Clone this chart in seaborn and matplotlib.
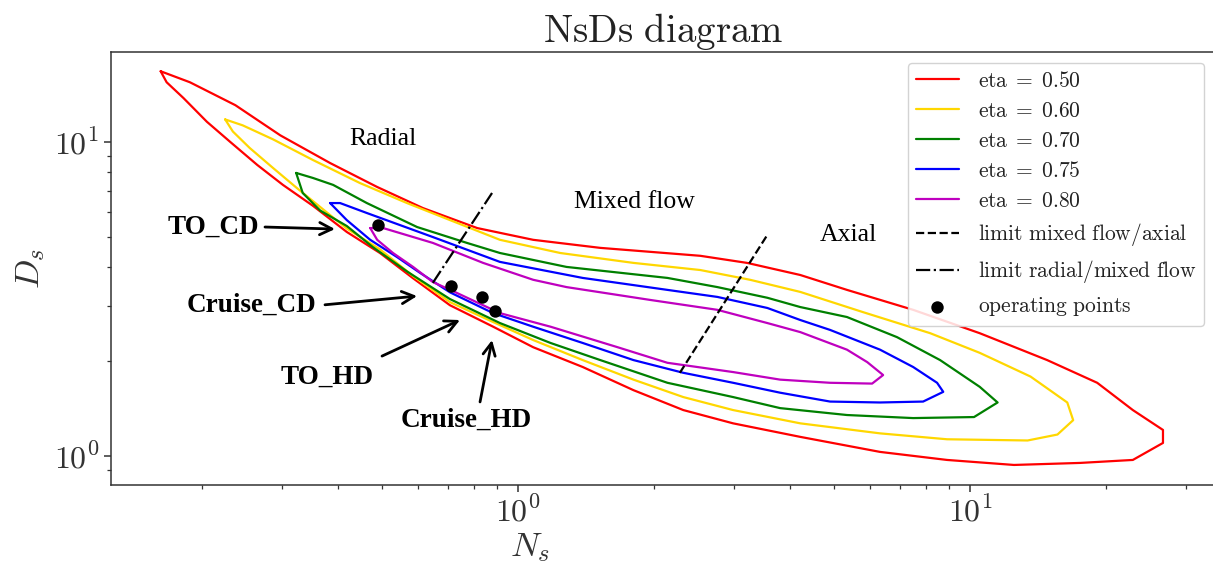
import matplotlib
matplotlib.use("Agg")
import matplotlib.pyplot as plt
import seaborn as sns
import numpy as np
import pandas as pd
from matplotlib.ticker import NullFormatter, FuncFormatter

# ---------------- data (Ns, Ds) ----------------
ns_050 = [0.162, 0.188, 0.237, 0.298, 0.384, 0.488, 0.616, 0.812, 1.08, 1.52, 2.53, 3.21, 4.21, 5.34,
          7.48, 10.5, 14.8, 19.1, 22.9, 26.7, 26.7, 22.9, 17.5, 12.5, 8.89, 6.32, 4.21, 2.99, 2.32,
          1.80, 1.39, 1.08, 0.881, 0.707, 0.586, 0.495, 0.418, 0.352, 0.302, 0.265, 0.231, 0.205,
          0.182, 0.167]
ds_050 = [16.8, 15.5, 13.1, 10.5, 8.57, 7.19, 6.16, 5.32, 4.88, 4.60, 4.34, 4.12, 3.77, 3.38,
          2.92, 2.46, 2.02, 1.71, 1.40, 1.21, 1.10, 0.971, 0.950, 0.936, 0.971, 1.03, 1.15, 1.27, 1.40,
          1.62, 1.92, 2.22, 2.58, 3.02, 3.68, 4.43, 5.17, 6.26, 7.30, 8.45, 10.0, 11.6,
          13.8, 15.5]

ns_060 = [0.225, 0.246, 0.287, 0.352, 0.447, 0.568, 0.707, 0.912, 1.24, 1.80, 2.53, 3.26, 4.21, 5.80,
          8.16, 10.5, 13.6, 16.4, 16.9, 15.6, 13.4, 8.89, 6.32, 4.21, 2.99, 2.32, 1.80, 1.39, 1.08,
          0.881, 0.707, 0.586, 0.495, 0.418, 0.365, 0.324, 0.287, 0.255, 0.234]
ds_060 = [11.8, 11.3, 10.2, 8.76, 7.40, 6.39, 5.64, 4.88, 4.43, 4.12, 3.91, 3.64, 3.33, 2.87,
          2.46, 2.13, 1.79, 1.48, 1.30, 1.17, 1.12, 1.13, 1.18, 1.27, 1.40, 1.54, 1.75, 2.02, 2.34,
          2.67, 3.09, 3.74, 4.55, 5.30, 6.21, 7.14, 8.27, 9.57, 10.8]

ns_070 = [0.323, 0.352, 0.390, 0.463, 0.598, 0.771, 0.912, 1.28, 2.14, 2.76, 3.56, 4.21, 5.34, 6.89,
          8.58, 10.5, 11.5, 10.2, 7.48, 5.34, 3.80, 2.99, 2.14, 1.52, 1.18, 0.912, 0.707, 0.568,
          0.478, 0.418, 0.365, 0.334]
ds_070 = [7.97, 7.68, 7.30, 6.39, 5.36, 4.77, 4.43, 4.00, 3.69, 3.45, 3.19, 2.98, 2.77, 2.39,
          2.02, 1.66, 1.48, 1.33, 1.32, 1.35, 1.42, 1.54, 1.71, 2.02, 2.29, 2.65, 3.16, 3.87,
          4.62, 5.40, 6.05, 6.88]

ns_075 = [0.384, 0.404, 0.463, 0.648, 0.912, 1.39, 2.14, 2.76, 3.56, 4.21, 4.90, 6.32, 7.48, 8.45,
          8.72, 7.87, 6.32, 4.90, 3.80, 2.99, 2.32, 1.80, 1.39, 1.08, 0.881, 0.707, 0.607, 0.540,
          0.471, 0.418]
ds_075 = [6.39, 6.39, 5.94, 4.98, 4.15, 3.69, 3.38, 3.21, 2.96, 2.71, 2.52, 2.18, 1.92, 1.71,
          1.60, 1.49, 1.48, 1.49, 1.59, 1.71, 1.84, 2.02, 2.29, 2.58, 2.85, 3.32, 3.83, 4.30,
          4.88, 5.64]

ns_080 = [0.471, 0.503, 0.648, 0.837, 1.08, 1.28, 1.96, 2.76, 3.56, 4.21, 5.34, 5.92, 6.42, 6.07,
          4.90, 3.80, 2.99, 2.14, 1.66, 1.18, 0.912, 0.718, 0.648, 0.586, 0.529, 0.488]
ds_080 = [5.32, 5.32, 4.77, 4.12, 3.64, 3.45, 3.14, 2.92, 2.65, 2.48, 2.18, 1.99, 1.81, 1.70,
          1.71, 1.75, 1.85, 1.98, 2.22, 2.58, 2.85, 3.35, 3.58, 4.00, 4.43, 4.88]

eta_labels = ["0.50", "0.60", "0.70", "0.75", "0.80"]
eta_colors = ["#ff0000", "#ffd700", "#008000", "#0000ff", "#bf00bf"]

lim_axial_ns = [2.28, 3.56]
lim_axial_ds = [1.84, 5.06]
lim_radial_ns = [0.648, 0.876]
lim_radial_ds = [3.56, 6.88]

op_names = ["TO_CD", "Cruise_CD", "TO_HD", "Cruise_HD"]
op_ns = [0.490, 0.711, 0.832, 0.889]
op_ds = [5.44, 3.48, 3.21, 2.90]

# ---------------- style ----------------
sns.set_style("ticks")
plt.rcParams["mathtext.fontset"] = "cm"
plt.rcParams["axes.edgecolor"] = "#333333"
plt.rcParams["axes.linewidth"] = 1.1

W, H = 1213, 567
fig = plt.figure(figsize=(W / 100, H / 100), dpi=100)
ax = fig.add_axes([111 / W, 1 - 485 / H, (1215 - 111) / W, (485 - 52) / H])

contours = [(ns_050, ds_050), (ns_060, ds_060), (ns_070, ds_070), (ns_075, ds_075), (ns_080, ds_080)]
for (ns, ds), lab, col in zip(contours, eta_labels, eta_colors):
    df = pd.DataFrame({"Ns": ns + [ns[0]], "Ds": ds + [ds[0]]})
    sns.lineplot(data=df, x="Ns", y="Ds", sort=False, estimator=None, color=col, lw=1.6,
                 label=r"$\mathrm{eta}\;=\;\mathrm{%s}$" % lab, ax=ax)

sns.lineplot(x=lim_axial_ns, y=lim_axial_ds, sort=False, estimator=None, color="black", lw=1.6,
             linestyle="--", label=r"$\mathrm{limit\ mixed\ flow/axial}$", ax=ax)
sns.lineplot(x=lim_radial_ns, y=lim_radial_ds, sort=False, estimator=None, color="black", lw=1.6,
             linestyle="-.", label=r"$\mathrm{limit\ radial/mixed\ flow}$", ax=ax)
sns.scatterplot(x=op_ns, y=op_ds, color="black", s=80, edgecolor="black", linewidth=0,
                label=r"$\mathrm{operating\ points}$", ax=ax, zorder=5)

ax.set_xscale("log")
ax.set_yscale("log")
ax.set_xlim(0.1258, 34.8)
ax.set_ylim(0.808, 19.35)
decade_fmt = FuncFormatter(lambda v, p: r"$10^{%d}$" % int(round(np.log10(v))))
ax.xaxis.set_major_formatter(decade_fmt)
ax.yaxis.set_major_formatter(decade_fmt)
ax.xaxis.set_minor_formatter(NullFormatter())
ax.yaxis.set_minor_formatter(NullFormatter())
ax.tick_params(axis="both", which="major", labelsize=23, length=5, width=1.1, colors="#333333",
               labelcolor="#333333")
ax.tick_params(axis="both", which="minor", length=3, width=0.9, colors="#333333")

ax.set_xlabel(r"$N_s$", fontsize=25, color="#333333")
ax.set_ylabel(r"$D_s$", fontsize=25, color="#333333")
ax.xaxis.set_label_coords((530 - 111) / (1215 - 111), -0.105)
ax.yaxis.set_label_coords(-0.058, 0.5)
ax.set_title(r"$\mathrm{NsDs\ diagram}$", fontsize=28, pad=4, color="#222222")

# region labels
serif = "Liberation Serif"
ax.text(0.5027, 10.22, "Radial", fontsize=18.5, family=serif, ha="center", va="center", color="black")
ax.text(1.806, 6.44, "Mixed flow", fontsize=18.5, family=serif, ha="center", va="center", color="black")
ax.text(5.372, 5.06, "Axial", fontsize=18.5, family=serif, ha="center", va="center", color="black")

# operating point labels and arrows
label_pos = [(0.2114, 5.36), (0.2579, 3.03), (0.3780, 1.785), (0.7673, 1.30)]
arrow_tail = [(0.2756, 5.36), (0.3741, 3.03), (0.5002, 2.08), (0.8240, 1.486)]
arrow_tip = [(0.3936, 5.28), (0.598, 3.23), (0.7441, 2.71), (0.876, 2.34)]
for name, lp, tl, tp in zip(op_names, label_pos, arrow_tail, arrow_tip):
    ax.text(lp[0], lp[1], name, fontsize=19.5, family=serif, weight="bold", ha="center", va="center",
            color="black")
    ax.annotate("", xy=tp, xytext=tl,
                arrowprops=dict(arrowstyle="->", color="black", lw=2, mutation_scale=22,
                                shrinkA=0, shrinkB=0))

handles, labels = ax.get_legend_handles_labels()
leg = ax.legend(handles, labels, loc="upper right", bbox_to_anchor=(1204 / W, 1 - 63 / H),
                bbox_transform=fig.transFigure, borderaxespad=0, fontsize=15.5, labelspacing=0.47,
                frameon=True, fancybox=True, framealpha=0.85, edgecolor="#cccccc",
                handlelength=2.0, handletextpad=0.9, borderpad=0.35)
for t in leg.get_texts():
    t.set_color("#222222")

fig.savefig("out.png", dpi=100)
